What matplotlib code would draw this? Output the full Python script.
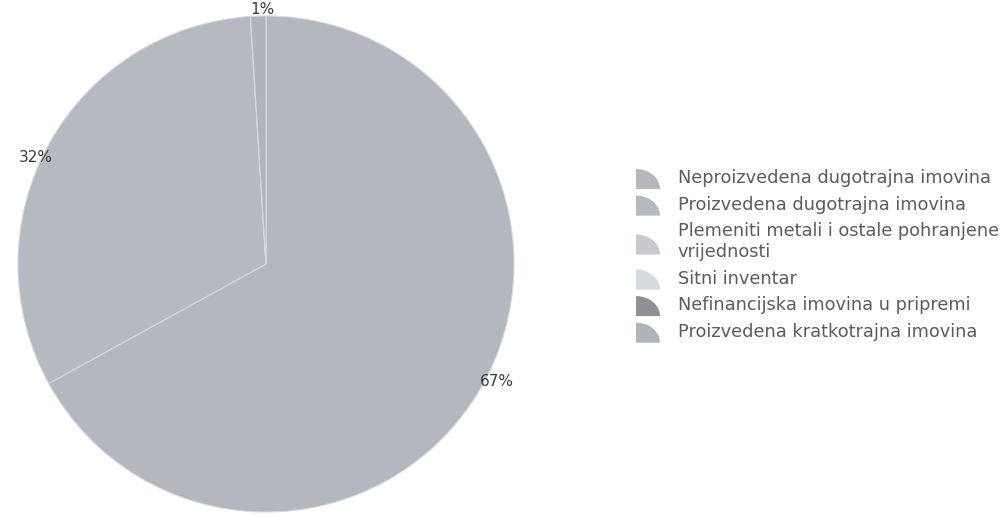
import matplotlib
matplotlib.use("Agg")
import matplotlib.pyplot as plt
import matplotlib.patches as mpatches
from matplotlib.legend_handler import HandlerPatch
import numpy as np

categories = [
    "Neproizvedena dugotrajna imovina",
    "Proizvedena dugotrajna imovina",
    "Plemeniti metali i ostale pohranjene\nvrijednosti",
    "Sitni inventar",
    "Nefinancijska imovina u pripremi",
    "Proizvedena kratkotrajna imovina",
]
shares = [67, 32, 0, 0, 0, 1]
colors = ["#b4b8be", "#b6bac0", "#c6c9ce", "#d6d9dd", "#8e9297", "#b1b5ba"]


class QuarterHandler(HandlerPatch):
    # legend swatch shaped like a quarter of a pie
    def create_artists(self, legend, orig_handle, xdescent, ydescent,
                       width, height, fontsize, trans):
        t = np.linspace(0, np.pi / 2, 20)
        x0, y0 = -xdescent, -ydescent - 3
        w, h = width, height + 3
        pts = [(x0, y0)] + [(x0 + w * np.sin(a), y0 + h * np.cos(a)) for a in t]
        p = mpatches.Polygon(pts, closed=True, facecolor=orig_handle.get_facecolor(),
                             edgecolor="none", transform=trans)
        return [p]


fig = plt.figure(figsize=(10.05, 5.15), dpi=100)
ax = fig.add_axes([18 / 1005, 3 / 515, 496 / 1005, 496 / 515])

wedges, _ = ax.pie(shares, colors=colors, startangle=90, counterclock=False,
                   wedgeprops=dict(edgecolor="#d4d7db", linewidth=0.8))
ax.set_xlim(-1, 1)
ax.set_ylim(-1, 1)
ax.set_aspect("equal")
ax.axis("off")

for w, v in zip(wedges, shares):
    if v == 0:
        continue
    mid = np.deg2rad((w.theta1 + w.theta2) / 2)
    x, y = np.cos(mid), np.sin(mid)
    if abs(x) < 0.15:
        ax.text(x * 0.5, 0.995, f"{v}%", ha="center", va="bottom", fontsize=11, color="#3a3a3a")
    elif x > 0:
        ax.text(x * 1.0, y * 0.93, f"{v}%", ha="left", va="center",
                fontsize=11, color="#3a3a3a")
    else:
        ax.text(x * 0.98, y * 0.89, f"{v}%", ha="right", va="center",
                fontsize=11, color="#3a3a3a")

handles = [mpatches.Patch(facecolor=c) for c in colors]
leg = fig.legend(handles, categories, loc="upper left",
                 bbox_to_anchor=(620 / 1005, 1 - 153 / 515), frameon=False,
                 fontsize=12.8, handlelength=1.35, handleheight=1.0,
                 handletextpad=1.0, labelspacing=0.48,
                 handler_map={mpatches.Patch: QuarterHandler()})
for t in leg.get_texts():
    t.set_color("#5c5c5c")

fig.savefig("out.png", dpi=100, facecolor="white")
